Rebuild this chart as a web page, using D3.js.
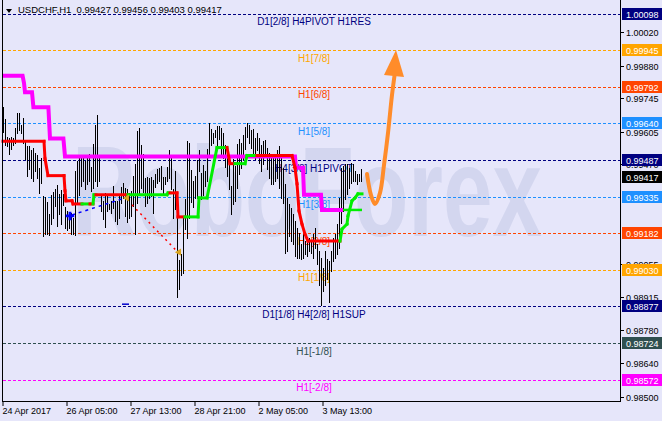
<!DOCTYPE html>
<html>
<head>
<meta charset="utf-8">
<title>USDCHF H1</title>
<script src="https://cdn.jsdelivr.net/npm/d3@7"></script>
<style>
  body { margin: 0; background: #e6e6fa; }
  svg { display: block; font-family: "Liberation Sans", Arial, sans-serif; }
</style>
</head>
<body>
<svg id="chart" width="662" height="421"></svg>
<script>
// --- data ---
const titleText = "USDCHF,H1  0.99427 0.99456 0.99403 0.99417";
const lastClose = 0.99417;

const highs = [0.99709,0.99657,0.99581,0.99577,0.99581,0.99577,0.99619,0.99682,0.99682,0.99632,
  0.99661,0.99569,0.99544,0.99544,0.99527,0.99539,0.99518,0.99506,0.99455,0.99497,
  0.99338,0.99334,0.99313,0.99262,0.99342,0.99355,0.99367,0.99384,0.99346,0.99363,
  0.99346,0.99292,0.99275,0.99262,0.99266,0.99245,0.99443,0.99485,0.99497,0.99506,
  0.99510,0.99485,0.99497,0.99514,0.99460,0.99552,0.99632,0.99674,0.99502,0.99338,
  0.99317,0.99350,0.99342,0.99304,0.99317,0.99380,0.99317,0.99317,0.99338,0.99376,
  0.99392,0.99371,0.99367,0.99350,0.99359,0.99422,0.99472,0.99607,0.99619,0.99548,
  0.99514,0.99413,0.99418,0.99413,0.99418,0.99405,0.99430,0.99451,0.99455,0.99464,
  0.99418,0.99418,0.99460,0.99527,0.99497,0.99367,0.99443,0.99287,0.99069,0.99094,
  0.99245,0.99325,0.99565,0.99560,0.99447,0.99401,0.99422,0.99489,0.99527,0.99434,
  0.99468,0.99443,0.99531,0.99640,0.99615,0.99598,0.99611,0.99628,0.99628,0.99619,
  0.99598,0.99548,0.99514,0.99485,0.99380,0.99493,0.99464,0.99552,0.99573,0.99560,
  0.99590,0.99623,0.99640,0.99632,0.99611,0.99615,0.99577,0.99598,0.99577,0.99548,
  0.99565,0.99569,0.99539,0.99518,0.99497,0.99514,0.99497,0.99527,0.99544,0.99497,
  0.99455,0.99388,0.99329,0.99304,0.99287,0.99262,0.99233,0.99203,0.99182,0.99136,
  0.99178,0.99149,0.99157,0.99161,0.99149,0.99178,0.99203,0.99136,0.99107,0.99077,
  0.99035,0.99107,0.99073,0.99065,0.99107,0.99161,0.99178,0.99220,0.99329,0.99455,
  0.99464,0.99472,0.99472,0.99455,0.99476,0.99472,0.99443,0.99430,0.99430,0.99451];

const lows = [0.99604,0.99548,0.99544,0.99514,0.99535,0.99548,0.99560,0.99598,0.99611,0.99598,
  0.99560,0.99493,0.99422,0.99451,0.99413,0.99401,0.99443,0.99413,0.99350,0.99392,
  0.99170,0.99178,0.99178,0.99174,0.99220,0.99245,0.99296,0.99212,0.99262,0.99220,
  0.99300,0.99203,0.99195,0.99203,0.99178,0.99178,0.99174,0.99304,0.99342,0.99380,
  0.99401,0.99367,0.99388,0.99401,0.99359,0.99371,0.99401,0.99380,0.99401,0.99275,
  0.99241,0.99208,0.99275,0.99283,0.99266,0.99287,0.99233,0.99220,0.99245,0.99308,
  0.99329,0.99254,0.99229,0.99245,0.99254,0.99296,0.99178,0.99308,0.99346,0.99371,
  0.99355,0.99296,0.99308,0.99329,0.99338,0.99266,0.99376,0.99392,0.99401,0.99367,
  0.99346,0.99388,0.99401,0.99413,0.99367,0.99245,0.99283,0.98914,0.98951,0.99006,
  0.99014,0.99199,0.99161,0.99245,0.99313,0.99292,0.99329,0.99329,0.99443,0.99325,
  0.99342,0.99380,0.99401,0.99514,0.99548,0.99560,0.99581,0.99548,0.99573,0.99506,
  0.99497,0.99460,0.99422,0.99367,0.99262,0.99304,0.99317,0.99371,0.99430,0.99455,
  0.99493,0.99535,0.99581,0.99556,0.99539,0.99514,0.99493,0.99527,0.99476,0.99443,
  0.99472,0.99502,0.99451,0.99413,0.99388,0.99388,0.99401,0.99413,0.99371,0.99329,
  0.99308,0.99098,0.99107,0.99170,0.99149,0.99136,0.99086,0.99077,0.99077,0.99073,
  0.99077,0.99094,0.99086,0.99107,0.99098,0.99077,0.99119,0.99052,0.98968,0.98884,
  0.98939,0.98968,0.98993,0.98897,0.99023,0.99065,0.99077,0.99094,0.99119,0.99224,
  0.99275,0.99325,0.99346,0.99371,0.99392,0.99401,0.99401,0.99388,0.99401,0.99401];

// murrey levels
const levelNames = ["D1[2/8] H4PIVOT H1RES", "H1[7/8]", "H1[6/8]", "H1[5/8]", "H4[3/8] H1PIVOT",
  "H1[3/8]", "H1[2/8]", "H1[1/8]", "D1[1/8] H4[2/8] H1SUP", "H1[-1/8]", "H1[-2/8]"];
const levelPrices = [1.00098, 0.99945, 0.99792, 0.99640, 0.99487, 0.99335, 0.99182, 0.99030, 0.98877, 0.98724, 0.98572];
const levelColors = ["#000080", "#ffa500", "#ff4500", "#1e90ff", "#000080", "#1e90ff", "#ff4500", "#ffa500", "#000080", "#2f4f4f", "#ff00ff"];

const priceTicks = [1.00020, 0.99880, 0.99745, 0.99605, 0.99470, 0.99055, 0.98915, 0.98780, 0.98640, 0.98500];
const timeTickBars = [0, 32, 64, 96, 128, 160];
const timeTickLabels = ["24 Apr 2017", "26 Apr 05:00", "27 Apr 13:00", "28 Apr 21:00", "2 May 05:00", "3 May 13:00"];

// magenta step line (bar index, price)
const magentaIdx = [0, 9.8, 10.5, 11, 14.5, 15.2, 22.7, 23.5, 30.2, 31, 146, 146.5, 150, 150.5, 159, 159.5, 170];
const magentaPrice = [0.99838, 0.99838, 0.99808, 0.99770, 0.99770, 0.99707, 0.99707, 0.99577, 0.99577, 0.99502,
  0.99502, 0.99455, 0.99455, 0.99342, 0.99342, 0.99279, 0.99279];
const greenTailIdx = [170, 179.5];
const greenTailPrice = [0.99279, 0.99279];

// red/green trend line
const trendIdx = [0, 20.5, 21, 22.5, 30.5, 31, 31.5, 34.5, 35, 39.5, 43.5, 45, 45.5, 46.5, 62.5, 82, 82.5, 83.5, 87, 87.5,
  91, 97.5, 98, 102, 107, 112, 113.5, 116, 121, 122, 127, 144.5, 146, 147, 148, 149.5, 151, 152.5, 168.5, 169.5,
  172, 172.5, 174.5, 176, 177.5, 179.5];
const trendPrice = [0.99565, 0.99565, 0.99493, 0.99422, 0.99422, 0.99359, 0.99317, 0.99317, 0.99304, 0.99304,
  0.99304, 0.99304, 0.99342, 0.99342, 0.99342, 0.99342, 0.99350, 0.99350, 0.99350, 0.99250,
  0.99250, 0.99250, 0.99329, 0.99329, 0.99539, 0.99539, 0.99472, 0.99472, 0.99472, 0.99506,
  0.99506, 0.99506, 0.99455, 0.99388, 0.99275, 0.99220, 0.99178, 0.99149, 0.99149, 0.99199,
  0.99220, 0.99254, 0.99317, 0.99329, 0.99346, 0.99346];
const trendColor = "rrrrrrrrrgrggrgggrrrgggggrrgggrrrrrrrrggggggg";

// trade marks
const buyArrow = [33.5, 0.99254];
const buyPath = [[34.5, 0.99258], [61, 0.99329]];
const closeMarks = [[62, 0.99329], [88, 0.99103]];
const sellPath = [[64.5, 0.99300], [86.5, 0.99111]];
const shortMark = [[59.5, 0.98886], [63, 0.98886]];

// forecast arrow
const arrowIdx = [182, 184, 186, 188.5, 190.5, 192.5, 194.5, 196];
const arrowPrice = [0.99429, 0.99341, 0.99304, 0.99350, 0.99466, 0.99600, 0.99758, 0.99854];
const arrowHead = [[196.5, 0.99946], [190.5, 0.99842], [200.5, 0.99833]];

// --- drawing ---
const svg = d3.select("#chart");
const plotLeft = 2, plotRight = 620, plotBottom = 401;

const x = d3.scaleLinear().domain([0, 1]).range([3, 5]);
const y = d3.scaleLinear().domain([0.98572, 1.00098]).range([379.5, 13.5]);

svg.append("rect").attr("width", 662).attr("height", 421).attr("fill", "#e6e6fa");

// watermark
svg.append("text")
  .attr("x", 72).attr("y", 236)
  .attr("font-size", 128).attr("font-weight", "bold")
  .attr("textLength", 470).attr("lengthAdjust", "spacingAndGlyphs")
  .attr("fill", "#d3d6ef")
  .text("RoboForex");

// level lines + names
const levels = levelPrices.map((p, i) => ({ p, name: levelNames[i], color: levelColors[i] }));
svg.append("g").selectAll("line").data(levels).join("line")
  .attr("x1", plotLeft + 1).attr("x2", plotRight)
  .attr("y1", d => Math.round(y(d.p)) + 0.5).attr("y2", d => Math.round(y(d.p)) + 0.5)
  .attr("stroke", d => d.color).attr("stroke-dasharray", "3,2");

svg.append("g").selectAll("text").data(levels).join("text")
  .attr("x", 314).attr("y", d => y(d.p) + 11.5)
  .attr("text-anchor", "middle").attr("font-size", 10)
  .attr("fill", d => d.color)
  .text(d => d.name);

// bars
svg.append("g").attr("shape-rendering", "crispEdges")
  .selectAll("line").data(highs).join("line")
  .attr("x1", (d, i) => x(i) + 0.5).attr("x2", (d, i) => x(i) + 0.5)
  .attr("y1", d => y(d)).attr("y2", (d, i) => y(lows[i]) + 1)
  .attr("stroke", "#000");

const line = d3.line().x(d => x(d[0])).y(d => y(d[1]));

// magenta
svg.append("path")
  .attr("d", line(magentaIdx.map((v, i) => [v, magentaPrice[i]])))
  .attr("fill", "none").attr("stroke", "#ff00ff").attr("stroke-width", 4);
svg.append("path")
  .attr("d", line(greenTailIdx.map((v, i) => [v, greenTailPrice[i]])))
  .attr("fill", "none").attr("stroke", "#00ee00").attr("stroke-width", 2.5);

// red / green trend
const trendPts = trendIdx.map((v, i) => [v, trendPrice[i]]);
const segs = d3.pairs(trendPts).map((pr, i) => ({ pr, c: trendColor[i] }));
svg.append("g").selectAll("path").data(segs).join("path")
  .attr("d", d => line(d.pr))
  .attr("fill", "none").attr("stroke-width", 3).attr("stroke-linecap", "square")
  .attr("stroke", d => d.c === "r" ? "#ff0000" : "#00ee00");

// trade marks
svg.append("path").attr("d", line(buyPath))
  .attr("stroke", "#0000ff").attr("stroke-width", 1.5).attr("stroke-dasharray", "3,4").attr("fill", "none");
svg.append("path").attr("d", line(sellPath))
  .attr("stroke", "#ff0000").attr("stroke-width", 1.5).attr("stroke-dasharray", "2,4").attr("fill", "none");
svg.append("path")
  .attr("d", d3.symbol(d3.symbolCross, 40)())
  .attr("transform", `translate(${x(buyArrow[0])},${y(buyArrow[1])})`)
  .attr("fill", "#0000ff");
svg.append("g").selectAll("path").data(closeMarks).join("path")
  .attr("d", d3.symbol(d3.symbolTriangle, 22)())
  .attr("transform", d => `translate(${x(d[0])},${y(d[1])}) rotate(-90)`)
  .attr("fill", "#daa520");
svg.append("path").attr("d", line(shortMark))
  .attr("stroke", "#0000cc").attr("stroke-width", 1.5);

// forecast arrow
svg.append("path")
  .attr("d", d3.line().x(d => x(d[0])).y(d => y(d[1])).curve(d3.curveCatmullRom)(arrowIdx.map((v, i) => [v, arrowPrice[i]])))
  .attr("fill", "none").attr("stroke", "#ff8c2a").attr("stroke-width", 4).attr("stroke-linecap", "round");
svg.append("path")
  .attr("d", line(arrowHead) + "Z")
  .attr("fill", "#ff8c2a");

// title
svg.append("path").attr("d", "M6,9 L12,9 L9,13 Z").attr("fill", "#000");
svg.append("text").attr("x", 18).attr("y", 13).attr("font-size", 9.5).attr("fill", "#000")
  .attr("xml:space", "preserve").text(titleText);

// axes frame
const frame = svg.append("g").attr("stroke", "#000").attr("shape-rendering", "crispEdges");
frame.append("line").attr("x1", plotLeft + 0.5).attr("x2", plotLeft + 0.5).attr("y1", 0).attr("y2", plotBottom + 1);
frame.append("line").attr("x1", plotRight + 0.5).attr("x2", plotRight + 0.5).attr("y1", 0).attr("y2", plotBottom + 1);
frame.append("line").attr("x1", plotLeft).attr("x2", plotRight + 1).attr("y1", plotBottom + 0.5).attr("y2", plotBottom + 0.5);

// price ticks
const pt = svg.append("g").selectAll("g").data(priceTicks).join("g")
  .attr("transform", d => `translate(0,${Math.round(y(d)) + 0.5})`);
pt.append("line").attr("x1", plotRight).attr("x2", plotRight + 4).attr("stroke", "#000");
pt.append("text").attr("x", 626).attr("y", 3.5).attr("font-size", 9).attr("fill", "#000").text(d => d.toFixed(5));

// time ticks
const tt = svg.append("g").selectAll("g").data(timeTickBars).join("g")
  .attr("transform", d => `translate(${x(d) - 0.5},0)`);
tt.append("line").attr("x1", 0.5).attr("x2", 0.5).attr("y1", plotBottom).attr("y2", plotBottom + 5).attr("stroke", "#000");
tt.append("text").attr("x", 0).attr("y", 414).attr("font-size", 9).attr("fill", "#000")
  .text((d, i) => timeTickLabels[i]);

// price boxes
const boxes = levels.map(l => ({ p: l.p, color: l.color }))
  .concat([{ p: lastClose, color: "#000" }]);
const bx = svg.append("g").selectAll("g").data(boxes).join("g")
  .attr("transform", d => `translate(622,${Math.round(y(d.p))})`);
bx.append("rect").attr("x", 0).attr("y", -6).attr("width", 40).attr("height", 12).attr("fill", d => d.color);
bx.append("text").attr("x", 4).attr("y", 3.5).attr("font-size", 9).attr("fill", "#fff").text(d => d.p.toFixed(5));
</script>
</body>
</html>
